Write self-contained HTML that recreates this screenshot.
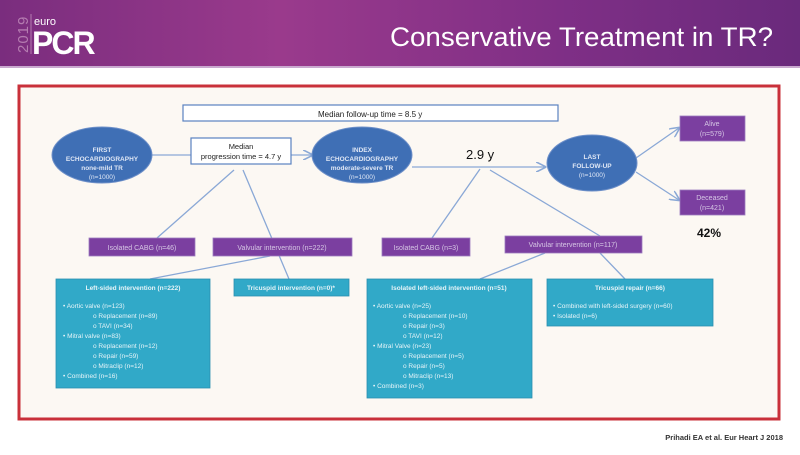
<!DOCTYPE html>
<html><head><meta charset="utf-8"><style>
body{margin:0;width:800px;height:450px;overflow:hidden;background:#fff;font-family:"Liberation Sans",sans-serif}
</style></head><body>
<svg width="800" height="450" viewBox="0 0 800 450" xmlns="http://www.w3.org/2000/svg" font-family="Liberation Sans, sans-serif">
<defs>
<linearGradient id="hg" x1="0" y1="0" x2="1" y2="0">
<stop offset="0" stop-color="#7a2d7e"/><stop offset="0.35" stop-color="#9a3a8c"/><stop offset="0.7" stop-color="#7f2f86"/><stop offset="1" stop-color="#6a2a7c"/>
</linearGradient>
<marker id="ar" markerWidth="8" markerHeight="8" refX="7" refY="4" orient="auto"><path d="M0,0 L8,4 L0,8" fill="none" stroke="#8aa8d6" stroke-width="1.2"/></marker>
</defs>
<rect x="0" y="0" width="800" height="66" fill="url(#hg)"/>
<rect x="0" y="66" width="800" height="2" fill="#c9a9cf"/>
<text x="28" y="53" font-size="15" fill="#b47bb0" transform="rotate(-90 28 53)" letter-spacing="1">2019</text>
<line x1="31" y1="14" x2="31" y2="54" stroke="#b47bb0" stroke-width="1"/>
<text x="34" y="25" font-size="11" fill="#fff">euro</text>
<text x="32" y="54" font-size="32" font-weight="bold" fill="#fff" letter-spacing="-2">PCR</text>
<text x="773" y="46" font-size="27" fill="#fff" text-anchor="end" textLength="383" lengthAdjust="spacingAndGlyphs">Conservative Treatment in TR?</text>

<rect x="19" y="86" width="760" height="333" fill="#fcf8f3" stroke="#c9303a" stroke-width="3"/>

<g stroke="#8aa8d6" stroke-width="1.3" fill="none">
<line x1="152" y1="155" x2="312" y2="155" marker-end="url(#ar)"/>
<line x1="412" y1="167" x2="545" y2="167" marker-end="url(#ar)"/>
<line x1="636" y1="158" x2="679" y2="128" marker-end="url(#ar)"/>
<line x1="636" y1="172" x2="679" y2="200" marker-end="url(#ar)"/>
<line x1="234" y1="170" x2="157" y2="238"/>
<line x1="243" y1="170" x2="289" y2="279"/>
<line x1="480" y1="169" x2="432" y2="238"/>
<line x1="490" y1="170" x2="600" y2="236"/>
<line x1="270" y1="256" x2="150" y2="279"/>
<line x1="545" y1="253" x2="480" y2="279"/>
<line x1="600" y1="253" x2="625" y2="279"/>
</g>

<rect x="183" y="105" width="375" height="16" fill="#fff" stroke="#5b82c0" stroke-width="1.2"/>
<text x="318" y="117" font-size="8" fill="#222">Median follow-up time = 8.5 y</text>

<g fill="#3f6fb5" stroke="#6d8fc8" stroke-width="1">
<ellipse cx="102" cy="155" rx="50" ry="28"/>
<ellipse cx="362" cy="155" rx="50" ry="28"/>
<ellipse cx="592" cy="163" rx="45" ry="28"/>
</g>
<g font-size="6.5" fill="#dfe7f5" text-anchor="middle" font-weight="bold">
<text x="102" y="152">FIRST</text><text x="102" y="161">ECHOCARDIOGRAPHY</text><text x="102" y="170">none-mild TR</text>
<text x="102" y="179" font-weight="normal">(n=1000)</text>
<text x="362" y="152">INDEX</text><text x="362" y="161">ECHOCARDIOGRAPHY</text><text x="362" y="170">moderate-severe TR</text>
<text x="362" y="179" font-weight="normal">(n=1000)</text>
<text x="592" y="159">LAST</text><text x="592" y="168">FOLLOW-UP</text><text x="592" y="177" font-weight="normal">(n=1000)</text>
</g>

<rect x="191" y="138" width="100" height="26" fill="#fff" stroke="#5b82c0" stroke-width="1.2"/>
<text x="241" y="149" font-size="7.5" text-anchor="middle" fill="#222">Median</text>
<text x="241" y="159" font-size="7.5" text-anchor="middle" fill="#222">progression time = 4.7 y</text>

<text x="466" y="159" font-size="13" fill="#111">2.9 y</text>
<text x="697" y="237" font-size="12" font-weight="bold" fill="#111">42%</text>

<g fill="#7b3fa0" stroke="#9b7cc0" stroke-width="0.8">
<rect x="680" y="116" width="65" height="25"/>
<rect x="680" y="190" width="65" height="25"/>
<rect x="89" y="238" width="106" height="18"/>
<rect x="213" y="238" width="139" height="18"/>
<rect x="382" y="238" width="88" height="18"/>
<rect x="505" y="236" width="137" height="17"/>
</g>
<g font-size="7" fill="#d6c7e4" text-anchor="middle">
<text x="712" y="126">Alive</text><text x="712" y="136">(n=579)</text>
<text x="712" y="200">Deceased</text><text x="712" y="210">(n=421)</text>
<text x="142" y="250">Isolated CABG (n=46)</text>
<text x="282" y="250">Valvular intervention (n=222)</text>
<text x="426" y="250">Isolated CABG (n=3)</text>
<text x="573" y="247">Valvular intervention (n=117)</text>
</g>

<g fill="#31a9c8" stroke="#2a8fb0" stroke-width="0.8">
<rect x="56" y="279" width="154" height="109"/>
<rect x="234" y="279" width="115" height="17"/>
<rect x="367" y="279" width="165" height="119"/>
<rect x="547" y="279" width="166" height="47"/>
</g>
<g font-size="6.5" fill="#e6f4f8">
<text x="133" y="290" text-anchor="middle" font-weight="bold">Left-sided intervention (n=222)</text>
<text x="63" y="308">•   Aortic valve (n=123)</text>
<text x="93" y="318">o   Replacement (n=89)</text>
<text x="93" y="328">o   TAVI (n=34)</text>
<text x="63" y="338">•  Mitral valve (n=83)</text>
<text x="93" y="348">o   Replacement (n=12)</text>
<text x="93" y="358">o   Repair (n=59)</text>
<text x="93" y="368">o   Mitraclip (n=12)</text>
<text x="63" y="378">•  Combined (n=16)</text>
<text x="291" y="290" text-anchor="middle" font-weight="bold">Tricuspid intervention (n=0)*</text>
<text x="449" y="290" text-anchor="middle" font-weight="bold">Isolated left-sided intervention (n=51)</text>
<text x="373" y="308">•  Aortic valve (n=25)</text>
<text x="403" y="318">o   Replacement (n=10)</text>
<text x="403" y="328">o   Repair (n=3)</text>
<text x="403" y="338">o   TAVI (n=12)</text>
<text x="373" y="348">•  Mitral Valve (n=23)</text>
<text x="403" y="358">o   Replacement (n=5)</text>
<text x="403" y="368">o   Repair (n=5)</text>
<text x="403" y="378">o   Mitraclip (n=13)</text>
<text x="373" y="388">•  Combined (n=3)</text>
<text x="630" y="290" text-anchor="middle" font-weight="bold">Tricuspid repair (n=66)</text>
<text x="553" y="308">•  Combined with left-sided surgery (n=60)</text>
<text x="553" y="318">•  Isolated  (n=6)</text>
</g>

<text x="783" y="440" font-size="7.5" font-weight="bold" fill="#333" text-anchor="end">Prihadi EA et al. Eur Heart J 2018</text>
</svg>
</body></html>
